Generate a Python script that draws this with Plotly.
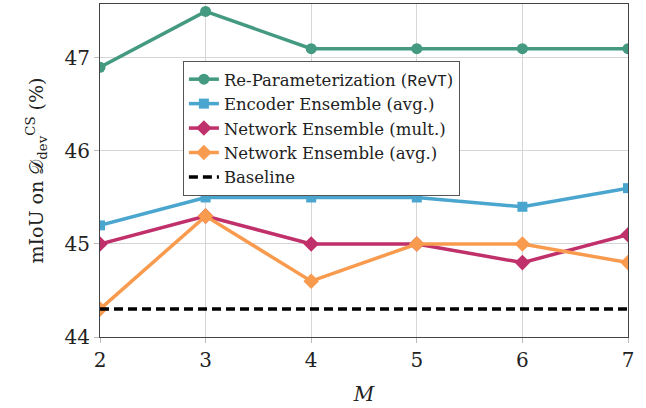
import plotly.graph_objects as go

M = [2, 3, 4, 5, 6, 7]
revt = [46.9, 47.5, 47.1, 47.1, 47.1, 47.1]
enc_avg = [45.2, 45.5, 45.5, 45.5, 45.4, 45.6]
net_mult = [45.0, 45.3, 45.0, 45.0, 44.8, 45.1]
net_avg = [44.3, 45.3, 44.6, 45.0, 45.0, 44.8]
baseline = [44.3] * 6

names = ["Re-Parameterization (<span style=\"font-family:Liberation Mono\">ReVT</span>)",
         "Encoder Ensemble (avg.)",
         "Network Ensemble (mult.)",
         "Network Ensemble (avg.)",
         "Baseline"]

FONT = "DejaVu Serif"
fig = go.Figure()
series = [
    (revt, "#439a80", "circle", 11),
    (enc_avg, "#4aa6ce", "square", 10),
    (net_mult, "#c0306a", "diamond", 12),
    (net_avg, "#f99b4e", "diamond", 12),
]
for (vals, col, sym, sz), nm in zip(series, names[:4]):
    fig.add_trace(go.Scatter(x=M, y=vals, name=nm, mode="lines+markers",
                             line=dict(color=col, width=3.5),
                             marker=dict(symbol=sym, size=sz, color=col)))
fig.add_trace(go.Scatter(x=M, y=baseline, name=names[4], mode="lines",
                         line=dict(color="black", width=3.5, dash="9px,5px")))

axis_common = dict(showline=True, linecolor="#444", linewidth=1.2, mirror=True,
                   showgrid=True, gridcolor="#d6d6d6", gridwidth=1,
                   ticks="outside", ticklen=5, tickcolor="#bbb",
                   tickfont=dict(family=FONT, size=20, color="#222"),
                   zeroline=False, automargin=False)
fig.update_xaxes(range=[2, 7], tickvals=M,
                 title=dict(text="<i>M</i>", font=dict(family=FONT, size=20, color="#222")),
                 **axis_common)
fig.update_yaxes(range=[44, 47.58], tickvals=[44, 45, 46, 47],
                 title=dict(text="mIoU on 𝒟<sub>dev</sub><sup>CS</sup> (%)",
                            font=dict(family=FONT, size=19, color="#222")),
                 **axis_common)
fig.update_layout(width=646, height=408, margin=dict(l=100, r=18, t=4, b=71),
                  plot_bgcolor="white", paper_bgcolor="white",
                  legend=dict(x=0.157, y=0.829, xanchor="left", yanchor="top",
                              bgcolor="white", bordercolor="#555", borderwidth=1,
                              font=dict(family=FONT, size=16.5, color="#222"),
                              tracegroupgap=0),
                  font=dict(family=FONT))
fig.write_html("out.html", config={"displayModeBar": False},
               post_script="document.body.style.margin='0';")
